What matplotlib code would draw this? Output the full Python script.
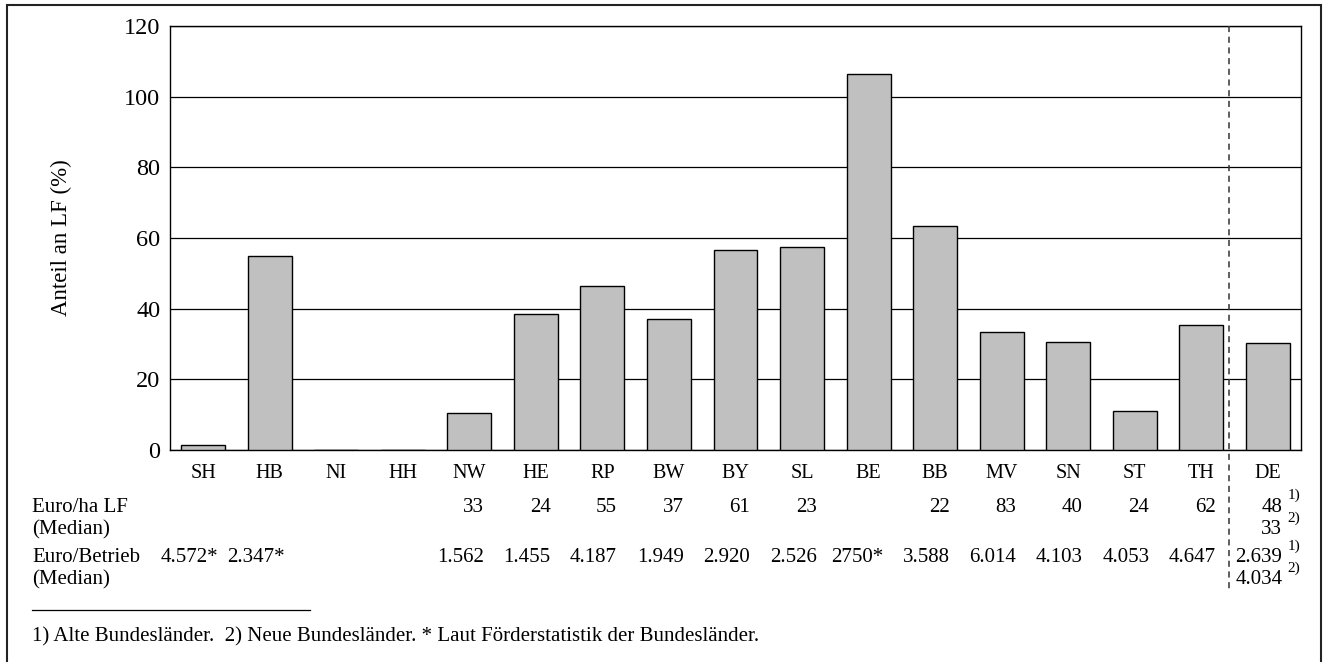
import numpy as np
import matplotlib
matplotlib.use("Agg")
import matplotlib.pyplot as plt
from matplotlib.transforms import blended_transform_factory
from matplotlib.patches import Rectangle
from matplotlib.lines import Line2D

plt.rcParams['font.family'] = ['Liberation Serif', 'DejaVu Serif']

laender = ["SH", "HB", "NI", "HH", "NW", "HE", "RP", "BW", "BY", "SL",
           "BE", "BB", "MV", "SN", "ST", "TH", "DE"]
anteil = [1.5, 55, 0, 0, 10.5, 38.5, 46.3, 37, 56.5, 57.5,
          106.5, 63.3, 33.5, 30.5, 11, 35.3, 30.2]
euro_ha = ["", "", "", "", "33", "24", "55", "37", "61", "23",
           "", "22", "83", "40", "24", "62"]
euro_betrieb = ["4.572*", "2.347*", "", "", "1.562", "1.455", "4.187", "1.949",
                "2.920", "2.526", "2750*", "3.588", "6.014", "4.103", "4.053", "4.647"]
de_ha = ["48", "33"]
de_betrieb = ["2.639", "4.034"]
fussnote = "1) Alte Bundesländer.  2) Neue Bundesländer. * Laut Förderstatistik der Bundesländer."

W, H = 1326, 662
fig = plt.figure(figsize=(W / 100, H / 100), dpi=100)

def fy(p):
    return 1 - p / H

ax = fig.add_axes([170 / W, fy(450), (1301 - 170) / W, (450 - 26) / H])
x = np.arange(len(laender))
ax.bar(x, anteil, width=0.66, color="#c0c0c0", edgecolor="black", linewidth=1, zorder=3)
ax.set_xlim(-0.5, len(laender) - 0.5)
ax.set_ylim(0, 120)
ax.set_yticks(np.arange(0, 121, 20))
ax.yaxis.grid(True, color="black", linewidth=0.9, zorder=0)
ax.set_axisbelow(True)
ax.set_xticks(x)
ax.set_xticklabels(laender, fontsize=14.5)
ax.tick_params(axis="x", length=0, pad=10)
ax.tick_params(axis="y", length=0, pad=7, labelsize=17.5)
for s in ax.spines.values():
    s.set_color("black")
    s.set_linewidth(1)

fig.text(61 / W, fy(238), "Anteil an LF (%)", rotation=90, ha="center", va="center", fontsize=16.5)

# Trennlinie vor DE
fig.add_artist(Line2D([1228.7 / W] * 2, [fy(26), fy(590)], color="#333333",
                      linestyle=(0, (4, 3)), linewidth=1.1))

tr = blended_transform_factory(ax.transData, fig.transFigure)
fs = 15
fig.text(32 / W, fy(507), "Euro/ha LF", fontsize=fs, va="center")
fig.text(32 / W, fy(530), "(Median)", fontsize=fs, va="center")
fig.text(32 / W, fy(558), "Euro/Betrieb", fontsize=fs, va="center")
fig.text(32 / W, fy(580), "(Median)", fontsize=fs, va="center")

off = 0.22
for i, v in enumerate(euro_ha):
    if v:
        ax.text(i + off, fy(507), v, transform=tr, ha="right", va="center", fontsize=fs)
for i, v in enumerate(euro_betrieb):
    if v:
        ax.text(i + off, fy(558), v, transform=tr, ha="right", va="center", fontsize=fs)

de = len(laender) - 1
for j, (v, y) in enumerate(zip(de_ha + de_betrieb, [507, 530, 558, 580])):
    ax.text(de + off, fy(y), v, transform=tr, ha="right", va="center", fontsize=fs)
    ax.text(de + off + 0.08, fy(y - 12), "%d)" % (j % 2 + 1), transform=tr,
            ha="left", va="center", fontsize=11)

fig.add_artist(Line2D([32 / W, 310 / W], [fy(610)] * 2, color="black", linewidth=0.9))
fig.text(32 / W, fy(637), fussnote, fontsize=fs, va="center")

# Rahmen
fig.add_artist(Rectangle((7 / W, -0.05), (1321 - 7) / W, fy(5) + 0.05, fill=False,
                         edgecolor="#222222", linewidth=1.5, transform=fig.transFigure))

fig.savefig("out.png", dpi=100)
